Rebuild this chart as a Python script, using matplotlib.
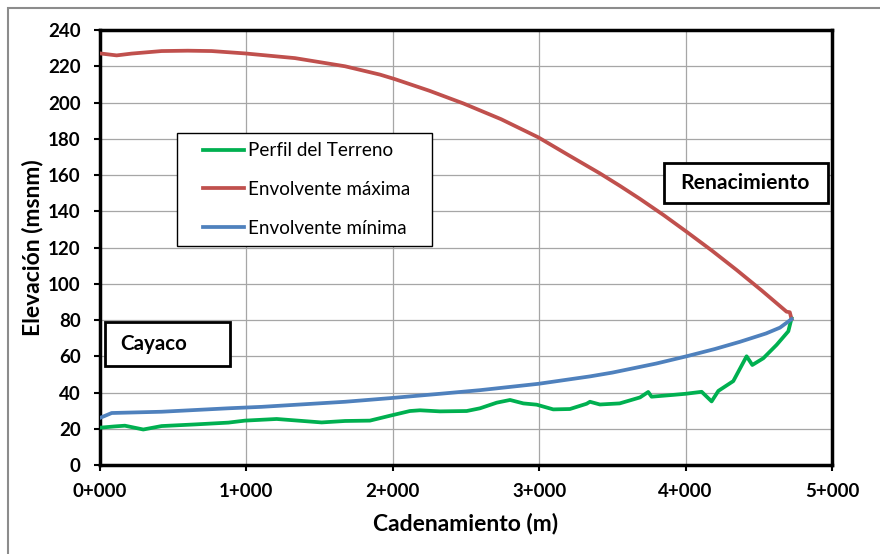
import matplotlib
matplotlib.use("Agg")
import matplotlib.pyplot as plt
from matplotlib.patches import Rectangle
from matplotlib.lines import Line2D
from matplotlib.legend_handler import HandlerLine2D

plt.rcParams['font.family'] = ['Lato', 'DejaVu Sans']

# perfil del terreno
terreno_x = [0, 100, 170, 296, 421, 649, 877, 990, 1207, 1514, 1674, 1844, 1981, 2117,
             2186, 2322, 2505, 2596, 2710, 2801, 2892, 2983, 3096, 3210, 3324, 3347,
             3415, 3550, 3689, 3745, 3768, 3916, 4000, 4110, 4178, 4224, 4326, 4417,
             4456, 4531, 4622, 4702, 4724]
terreno_y = [20.6, 21.3, 21.7, 19.6, 21.5, 22.4, 23.4, 24.5, 25.4, 23.5, 24.3, 24.5, 27.2, 29.8,
             30.2, 29.6, 29.8, 31.3, 34.4, 35.9, 34.0, 33.3, 30.7, 30.9, 33.8, 34.9,
             33.4, 34.0, 37.3, 40.3, 37.7, 38.7, 39.3, 40.4, 35.1, 40.9, 46.3, 60.0,
             55.2, 58.9, 66.3, 73.8, 80.9]

# envolvente maxima
max_x = [0, 114, 216, 421, 600, 763, 990, 1332, 1674, 1913, 2015, 2250, 2482, 2740, 2994,
         3200, 3415, 3552, 3689, 3850, 4007, 4180, 4349, 4520, 4690, 4712, 4724]
max_y = [227.1, 226.0, 227.0, 228.4, 228.6, 228.4, 227.1, 224.5, 220.0, 215.4, 212.9, 206.5, 199.5, 190.8, 180.8,
         171.0, 160.9, 154.0, 146.8, 137.9, 128.7, 118.3, 107.6, 96.3, 84.6, 84.3, 80.6]

# envolvente minima
min_x = [0, 30, 80, 421, 877, 1104, 1674, 1981, 2322, 2596, 2994, 3347, 3500, 3800, 4007,
         4200, 4372, 4550, 4645, 4724]
min_y = [26.0, 27.0, 28.7, 29.4, 31.3, 32.1, 34.9, 36.9, 39.3, 41.3, 44.8, 48.9, 51.0, 56.0, 60.0,
         64.0, 68.0, 72.6, 75.8, 80.5]

xticks = [0, 1000, 2000, 3000, 4000, 5000]
xtick_labels = ["0+000", "1+000", "2+000", "3+000", "4+000", "5+000"]
yticks = list(range(0, 241, 20))

fig = plt.figure(figsize=(8.8, 5.54), dpi=100)
ax = fig.add_axes([0.1136, 0.1606, 0.8318, 0.7852])

ax.plot(terreno_x, terreno_y, color="#00B050", lw=2.7, label="Perfil del Terreno", zorder=3)
ax.plot(max_x, max_y, color="#C0504D", lw=2.7, label="Envolvente máxima", zorder=3)
ax.plot(min_x, min_y, color="#4F81BD", lw=2.7, label="Envolvente mínima", zorder=4)

ax.set_xlim(0, 5000)
ax.set_ylim(0, 240)
ax.set_xticks(xticks)
ax.set_xticklabels(xtick_labels)
ax.set_yticks(yticks)
ax.grid(True, color="#a6a6a6", lw=0.9)
ax.set_axisbelow(True)
for s in ax.spines.values():
    s.set_linewidth(2.5)
    s.set_color("black")
ax.tick_params(axis="both", direction="out", length=4, width=1.5, labelsize=13.5)
ax.tick_params(axis="x", pad=9)
ax.tick_params(axis="y", pad=10)
for lbl in ax.get_xticklabels() + ax.get_yticklabels():
    lbl.set_fontweight("bold")

ax.set_xlabel("Cadenamiento (m)", fontsize=16.5, fontweight="bold", labelpad=9)
ax.set_ylabel("Elevación (msnm)", fontsize=16.5, fontweight="bold", labelpad=3)

leg = ax.legend(loc="upper left", bbox_to_anchor=(0.1048, 0.5097, 0.3483, 0.2542),
                mode="expand", fancybox=False, edgecolor="black", framealpha=1,
                fontsize=13.6, handlelength=3.05, handletextpad=0.2, labelspacing=1.15,
                borderpad=0.5, borderaxespad=0,
                handler_map={Line2D: HandlerLine2D(xpad=0.9)})
leg.get_frame().set_linewidth(1.0)

# cajas de texto
ax.add_patch(Rectangle((34, 54.8), 854, 24.3, facecolor="white", edgecolor="black", lw=2, zorder=5))
ax.text(137, 66.9, "Cayaco", fontsize=14.8, fontweight="bold", va="center", ha="left", zorder=6)
ax.add_patch(Rectangle((3854, 144.4), 1121, 22.1, facecolor="white", edgecolor="black", lw=2, zorder=5))
ax.text(4406, 155.6, "Renacimiento", fontsize=15.2, fontweight="bold", va="center", ha="center", zorder=6)

# borde exterior
fig.add_artist(Rectangle((8 / 880, -0.05), 1.1, 1.05 - 8 / 554, transform=fig.transFigure,
                         fill=False, edgecolor="#8c8c8c", lw=1.5))

fig.savefig("out.png", dpi=100)
